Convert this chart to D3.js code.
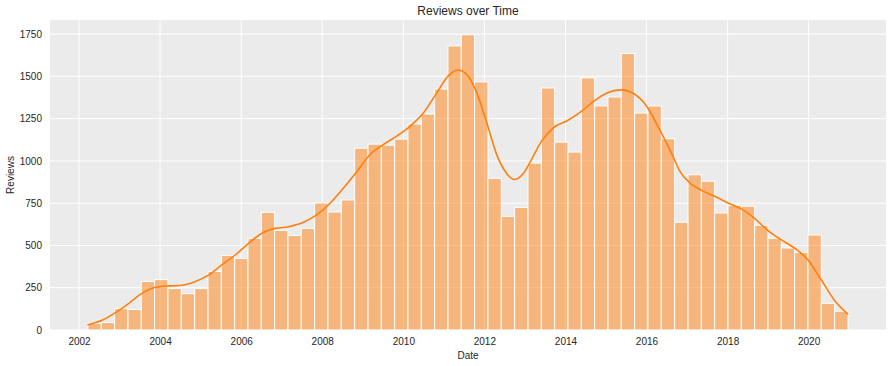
<!DOCTYPE html>
<html>
<head>
<meta charset="utf-8">
<script src="https://cdn.jsdelivr.net/npm/d3@7"></script>
<style>
  html, body { margin: 0; padding: 0; background: #ffffff; }
  svg { display: block; }
  text { font-family: "Liberation Sans", Arial, sans-serif; fill: #262626; }
</style>
</head>
<body>
<svg id="chart" width="892" height="366"></svg>
<script>
// ---- Data ----
const title = "Reviews over Time";
const xLabel = "Date";
const yLabel = "Reviews";

// histogram bins: first edge, last edge (decimal years), and counts per bin
const binFirstEdge = 2002.22;
const binLastEdge = 2020.97;
const binCounts = [
  40, 44, 126, 121, 287, 298, 245, 215, 245, 346,
  441, 423, 542, 696, 589, 559, 601, 751, 698, 769,
  1075, 1099, 1093, 1129, 1218, 1277, 1425, 1680, 1746, 1467,
  897, 672, 725, 987, 1431, 1111, 1052, 1491, 1325, 1378,
  1635, 1283, 1325, 1131, 637, 918, 880, 692, 737, 732,
  619, 542, 485, 459, 562, 158, 111
];

// KDE curve (decimal year, count scale)
const kdeYears = [
  2002.22, 2002.58, 2002.90, 2003.23, 2003.56, 2003.89, 2004.22, 2004.55, 2004.87, 2005.20,
  2005.53, 2005.86, 2006.19, 2006.52, 2006.84, 2007.17, 2007.54, 2007.87, 2008.20, 2008.53,
  2008.86, 2009.18, 2009.51, 2009.84, 2010.17, 2010.50, 2010.83, 2011.11, 2011.34, 2011.56,
  2011.81, 2012.06, 2012.30, 2012.51, 2012.74, 2012.96, 2013.16, 2013.41, 2013.70, 2014.03,
  2014.35, 2014.68, 2015.01, 2015.38, 2015.67, 2016.00, 2016.32, 2016.65, 2016.82, 2017.05,
  2017.35, 2017.68, 2018.01, 2018.34, 2018.66, 2018.99, 2019.32, 2019.65, 2019.98, 2020.31,
  2020.63, 2020.96
];
const kdeValues = [
  31, 59, 103, 158, 218, 253, 261, 265, 287, 326,
  386, 445, 514, 574, 601, 611, 637, 682, 751, 841,
  939, 1038, 1097, 1147, 1206, 1285, 1404, 1503, 1538, 1513,
  1404, 1226, 1040, 939, 890, 925, 1008, 1117, 1196, 1236,
  1285, 1349, 1400, 1420, 1400, 1325, 1186, 1028, 939, 874,
  827, 791, 751, 716, 662, 589, 534, 485, 415, 297,
  178, 95
];

const xTickYears = [2002, 2004, 2006, 2008, 2010, 2012, 2014, 2016, 2018, 2020];
const yTicks = [0, 250, 500, 750, 1000, 1250, 1500, 1750];

// ---- helpers ----
function yearToDate(y) {
  const yr = Math.floor(y);
  const s = Date.UTC(yr, 0, 1), e = Date.UTC(yr + 1, 0, 1);
  return new Date(s + (y - yr) * (e - s));
}

// ---- Layout ----
const W = 892, H = 366;
const m = { left: 50, right: 6, top: 20, bottom: 36 };
const pw = W - m.left - m.right, ph = H - m.top - m.bottom;

const svg = d3.select("#chart");
const g = svg.append("g").attr("transform", `translate(${m.left},${m.top})`);

// x domain with 5% margins around the data range
const span = binLastEdge - binFirstEdge;
const x = d3.scaleUtc()
  .domain([yearToDate(binFirstEdge - 0.05 * span), yearToDate(binLastEdge + 0.05 * span)])
  .range([0, pw]);
const yMax = d3.max(binCounts) * 1.05;
const y = d3.scaleLinear().domain([0, yMax]).range([ph, 0]);

// background
g.append("rect").attr("width", pw).attr("height", ph).attr("fill", "#ebebeb");

// grid
g.append("g").selectAll("line").data(yTicks).join("line")
  .attr("x1", 0).attr("x2", pw)
  .attr("y1", d => y(d)).attr("y2", d => y(d))
  .attr("stroke", "#ffffff").attr("stroke-width", 1);
g.append("g").selectAll("line").data(xTickYears).join("line")
  .attr("x1", d => x(yearToDate(d))).attr("x2", d => x(yearToDate(d)))
  .attr("y1", 0).attr("y2", ph)
  .attr("stroke", "#ffffff").attr("stroke-width", 1);

// bars
const binW = span / binCounts.length;
const bins = binCounts.map((c, i) => ({
  x0: yearToDate(binFirstEdge + i * binW),
  x1: yearToDate(binFirstEdge + (i + 1) * binW),
  c
}));
g.append("g").selectAll("rect").data(bins).join("rect")
  .attr("x", d => x(d.x0))
  .attr("width", d => x(d.x1) - x(d.x0))
  .attr("y", d => y(d.c))
  .attr("height", d => y(0) - y(d.c))
  .attr("fill", "#ff7f0e").attr("fill-opacity", 0.5)
  .attr("stroke", "#ffffff").attr("stroke-width", 1);

// KDE line
const kde = kdeYears.map((yr, i) => ({ d: yearToDate(yr), v: kdeValues[i] }));
g.append("path").datum(kde)
  .attr("fill", "none").attr("stroke", "#ff7f0e").attr("stroke-width", 1.6)
  .attr("stroke-linecap", "round")
  .attr("d", d3.line().x(d => x(d.d)).y(d => y(d.v)).curve(d3.curveMonotoneX));

// axes
const xAxis = d3.axisBottom(x)
  .tickValues(xTickYears.map(yearToDate))
  .tickFormat(d3.utcFormat("%Y")).tickSize(0).tickPadding(8);
const xa = g.append("g").attr("transform", `translate(0,${ph})`).call(xAxis);
xa.select(".domain").remove();
xa.selectAll("text").attr("font-size", 10).attr("fill", "#262626")
  .attr("font-family", "Liberation Sans, Arial, sans-serif");

const yAxis = d3.axisLeft(y).tickValues(yTicks).tickFormat(d3.format("d"))
  .tickSize(0).tickPadding(8);
const ya = g.append("g").call(yAxis);
ya.select(".domain").remove();
ya.selectAll("text").attr("font-size", 10).attr("fill", "#262626")
  .attr("font-family", "Liberation Sans, Arial, sans-serif");

// labels
svg.append("text").attr("x", m.left + pw / 2).attr("y", 15)
  .attr("text-anchor", "middle").attr("font-size", 12).text(title);
svg.append("text").attr("x", m.left + pw / 2).attr("y", 359)
  .attr("text-anchor", "middle").attr("font-size", 10).text(xLabel);
svg.append("text").attr("transform", `translate(14,${m.top + ph / 2}) rotate(-90)`)
  .attr("text-anchor", "middle").attr("font-size", 10).text(yLabel);
</script>
</body>
</html>
